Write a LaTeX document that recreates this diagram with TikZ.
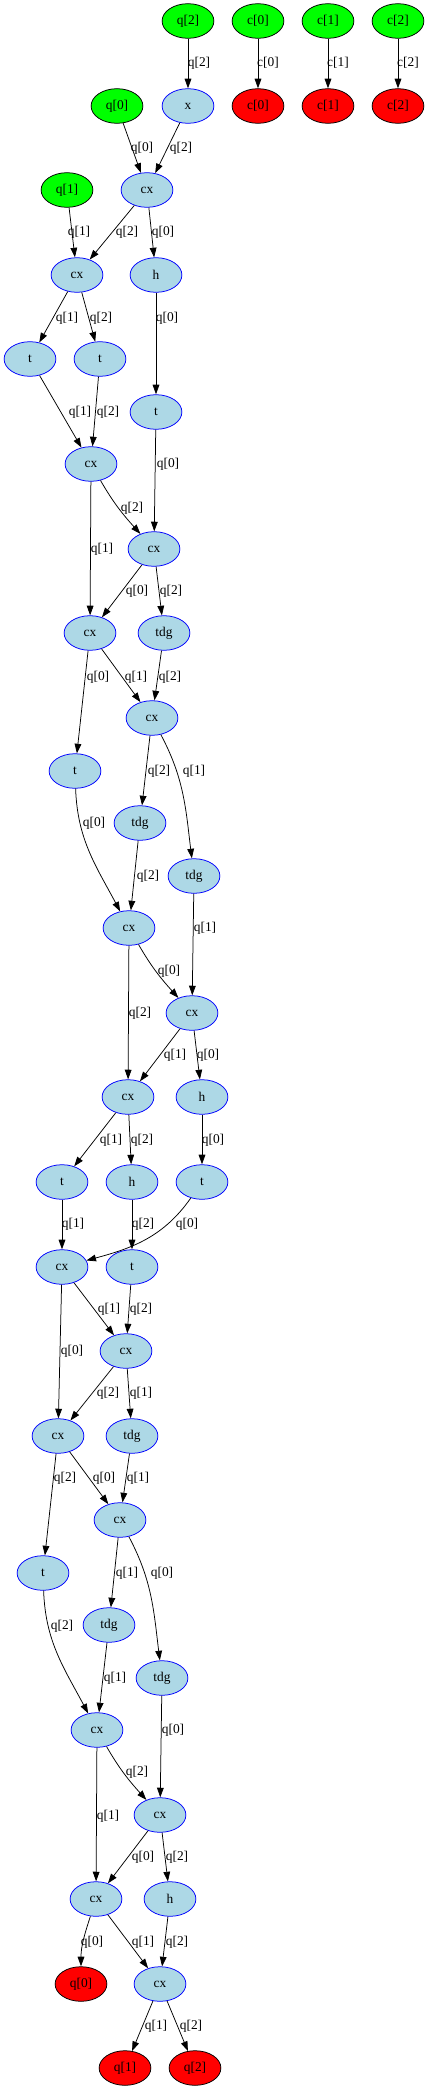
\documentclass[tikz,border=0pt]{standalone}
\usepackage{fontspec}
\setmainfont{Liberation Serif}
\usetikzlibrary{arrows.meta,shapes.geometric}
\definecolor{gvgreen}{HTML}{00FF00}
\definecolor{gvred}{HTML}{FF0000}
\definecolor{gvblue}{HTML}{ADD8E6}
\definecolor{gvborder}{HTML}{0000FF}
\tikzset{
  base/.style={ellipse, minimum width=51.8pt, minimum height=34.6pt, inner sep=0pt, line width=0.75pt, font=\fontsize{13.4}{15}\selectfont},
  qin/.style={base, draw=black, fill=gvgreen},
  qout/.style={base, draw=black, fill=gvred},
  gate/.style={base, draw=gvborder, fill=gvblue},
  edge/.style={draw=black, line width=0.75pt, -{Triangle[length=9.6pt,width=6.7pt]}},
  lab/.style={inner sep=0pt, font=\fontsize{13.4}{15}\selectfont}
}
\begin{document}
\begin{tikzpicture}[x=1pt,y=1pt]
\useasboundingbox (0,0) rectangle (428,-2090);
% nodes
\node[qin] (qin2) at (188,-21) {q[2]};
\node[qin] (cin0) at (258,-21) {c[0]};
\node[qin] (cin1) at (328,-21) {c[1]};
\node[qin] (cin2) at (398,-21) {c[2]};
\node[qin] (qin0) at (117,-106) {q[0]};
\node[gate] (x) at (188,-106) {x};
\node[qout] (cout0) at (258,-106) {c[0]};
\node[qout] (cout1) at (328,-106) {c[1]};
\node[qout] (cout2) at (398,-106) {c[2]};
\node[qin] (qin1) at (67,-190) {q[1]};
\node[gate] (cx1) at (147,-190) {cx};
\node[gate] (cx2) at (77,-275) {cx};
\node[gate] (h1) at (156,-275) {h};
\node[gate] (t1) at (30,-359) {t};
\node[gate] (t2) at (100,-359) {t};
\node[gate] (t3) at (156,-412) {t};
\node[gate] (cx3) at (91,-464) {cx};
\node[gate] (cx4) at (154,-549) {cx};
\node[gate] (cx5) at (90,-633) {cx};
\node[gate] (tdg1) at (164,-633) {tdg};
\node[gate] (cx6) at (152,-718) {cx};
\node[gate] (t4) at (75,-771) {t};
\node[gate] (tdg2) at (140,-823) {tdg};
\node[gate] (tdg3) at (194,-876) {tdg};
\node[gate] (cx7) at (129,-928) {cx};
\node[gate] (cx8) at (192,-1013) {cx};
\node[gate] (cx9) at (128,-1097) {cx};
\node[gate] (h2) at (202,-1097) {h};
\node[gate] (t5) at (62,-1182) {t};
\node[gate] (h3) at (132,-1182) {h};
\node[gate] (t6) at (202,-1182) {t};
\node[gate] (cx10) at (62,-1267) {cx};
\node[gate] (t7) at (132,-1267) {t};
\node[gate] (cx11) at (126,-1351) {cx};
\node[gate] (cx12) at (58,-1436) {cx};
\node[gate] (tdg4) at (132,-1436) {tdg};
\node[gate] (cx13) at (120,-1520) {cx};
\node[gate] (t8) at (43,-1573) {t};
\node[gate] (tdg5) at (109,-1625) {tdg};
\node[gate] (tdg6) at (162,-1678) {tdg};
\node[gate] (cx14) at (97,-1730) {cx};
\node[gate] (cx15) at (160,-1815) {cx};
\node[gate] (cx16) at (96,-1899) {cx};
\node[gate] (h4) at (170,-1899) {h};
\node[qout] (qout0) at (81,-1984) {q[0]};
\node[gate] (cx17) at (160,-1984) {cx};
\node[qout] (qout1) at (125,-2068) {q[1]};
\node[qout] (qout2) at (195,-2068) {q[2]};
% edges
\draw[edge] (qin2) -- (x);
\draw[edge] (cin0) -- (cout0);
\draw[edge] (cin1) -- (cout1);
\draw[edge] (cin2) -- (cout2);
\draw[edge] (qin0) -- (cx1);
\draw[edge] (x) -- (cx1);
\draw[edge] (qin1) -- (cx2);
\draw[edge] (cx1) -- (cx2);
\draw[edge] (cx1) -- (h1);
\draw[edge] (cx2) -- (t1);
\draw[edge] (cx2) -- (t2);
\draw[edge] (h1) -- (t3);
\draw[edge] (t1) -- (cx3);
\draw[edge] (t2) -- (cx3);
\draw[edge] (t3) -- (cx4);
\draw[edge] (cx3) to[out=-60,in=132] (cx4);
\draw[edge] (cx3) -- (cx5);
\draw[edge] (cx4) -- (cx5);
\draw[edge] (cx4) -- (tdg1);
\draw[edge] (cx5) -- (t4);
\draw[edge] (cx5) -- (cx6);
\draw[edge] (tdg1) -- (cx6);
\draw[edge] (cx6) -- (tdg2);
\draw[edge] (cx6) to[out=-62,in=97] (tdg3);
\draw[edge] (t4) to[out=-88,in=118] (cx7);
\draw[edge] (tdg2) -- (cx7);
\draw[edge] (cx7) to[out=-60,in=132] (cx8);
\draw[edge] (tdg3) -- (cx8);
\draw[edge] (cx7) -- (cx9);
\draw[edge] (cx8) -- (cx9);
\draw[edge] (cx8) -- (h2);
\draw[edge] (cx9) -- (t5);
\draw[edge] (cx9) -- (h3);
\draw[edge] (h2) -- (t6);
\draw[edge] (t5) -- (cx10);
\draw[edge] (h3) -- (t7);
\draw[edge] (t6) to[out=-125,in=15] (cx10);
\draw[edge] (cx10) -- (cx11);
\draw[edge] (t7) -- (cx11);
\draw[edge] (cx10) -- (cx12);
\draw[edge] (cx11) -- (cx12);
\draw[edge] (cx11) -- (tdg4);
\draw[edge] (cx12) -- (t8);
\draw[edge] (cx12) -- (cx13);
\draw[edge] (tdg4) -- (cx13);
\draw[edge] (cx13) -- (tdg5);
\draw[edge] (cx13) to[out=-62,in=97] (tdg6);
\draw[edge] (t8) to[out=-88,in=118] (cx14);
\draw[edge] (tdg5) -- (cx14);
\draw[edge] (cx14) to[out=-60,in=132] (cx15);
\draw[edge] (tdg6) -- (cx15);
\draw[edge] (cx14) -- (cx16);
\draw[edge] (cx15) -- (cx16);
\draw[edge] (cx15) -- (h4);
\draw[edge] (cx16) to[out=-108,in=90] (qout0);
\draw[edge] (cx16) -- (cx17);
\draw[edge] (h4) -- (cx17);
\draw[edge] (cx17) -- (qout1);
\draw[edge] (cx17) -- (qout2);
% edge labels
\node[lab] (l1) at (199,-63) {q[2]};
\node[lab] (l2) at (268,-63) {c[0]};
\node[lab] (l3) at (338,-63) {c[1]};
\node[lab] (l4) at (408,-63) {c[2]};
\node[lab] (l5) at (142,-148) {q[0]};
\node[lab] (l6) at (181,-148) {q[2]};
\node[lab] (l7) at (79,-232) {q[1]};
\node[lab] (l8) at (127,-232) {q[2]};
\node[lab] (l9) at (163,-232) {q[0]};
\node[lab] (l10) at (67,-318) {q[1]};
\node[lab] (l11) at (101,-318) {q[2]};
\node[lab] (l12) at (167,-318) {q[0]};
\node[lab] (l13) at (80,-412) {q[1]};
\node[lab] (l14) at (108,-412) {q[2]};
\node[lab] (l15) at (168,-464) {q[0]};
\node[lab] (l16) at (132,-508) {q[2]};
\node[lab] (l17) at (102,-549) {q[1]};
\node[lab] (l18) at (137,-591) {q[0]};
\node[lab] (l19) at (171,-591) {q[2]};
\node[lab] (l20) at (98,-677) {q[0]};
\node[lab] (l21) at (136,-677) {q[1]};
\node[lab] (l22) at (170,-677) {q[2]};
\node[lab] (l23) at (159,-771) {q[2]};
\node[lab] (l24) at (194,-771) {q[1]};
\node[lab] (l25) at (94,-823) {q[0]};
\node[lab] (l26) at (148,-876) {q[2]};
\node[lab] (l27) at (205,-928) {q[1]};
\node[lab] (l28) at (169,-971) {q[0]};
\node[lab] (l29) at (140,-1013) {q[2]};
\node[lab] (l30) at (175,-1055) {q[1]};
\node[lab] (l31) at (208,-1055) {q[0]};
\node[lab] (l32) at (111,-1140) {q[1]};
\node[lab] (l33) at (142,-1140) {q[2]};
\node[lab] (l34) at (213,-1140) {q[0]};
\node[lab] (l35) at (73,-1224) {q[1]};
\node[lab] (l36) at (143,-1224) {q[2]};
\node[lab] (l37) at (187,-1224) {q[0]};
\node[lab] (l38) at (109,-1309) {q[1]};
\node[lab] (l39) at (141,-1309) {q[2]};
\node[lab] (l40) at (72,-1351) {q[0]};
\node[lab] (l41) at (108,-1393) {q[2]};
\node[lab] (l42) at (141,-1393) {q[1]};
\node[lab] (l43) at (65,-1478) {q[2]};
\node[lab] (l44) at (104,-1478) {q[0]};
\node[lab] (l45) at (138,-1478) {q[1]};
\node[lab] (l46) at (127,-1573) {q[1]};
\node[lab] (l47) at (162,-1573) {q[0]};
\node[lab] (l48) at (62,-1626) {q[2]};
\node[lab] (l49) at (115,-1678) {q[1]};
\node[lab] (l50) at (173,-1730) {q[0]};
\node[lab] (l51) at (137,-1772) {q[2]};
\node[lab] (l52) at (108,-1816) {q[1]};
\node[lab] (l53) at (143,-1857) {q[0]};
\node[lab] (l54) at (177,-1857) {q[2]};
\node[lab] (l55) at (92,-1942) {q[0]};
\node[lab] (l56) at (143,-1942) {q[1]};
\node[lab] (l57) at (177,-1942) {q[2]};
\node[lab] (l58) at (156,-2026) {q[1]};
\node[lab] (l59) at (191,-2026) {q[2]};
\end{tikzpicture}
\end{document}
